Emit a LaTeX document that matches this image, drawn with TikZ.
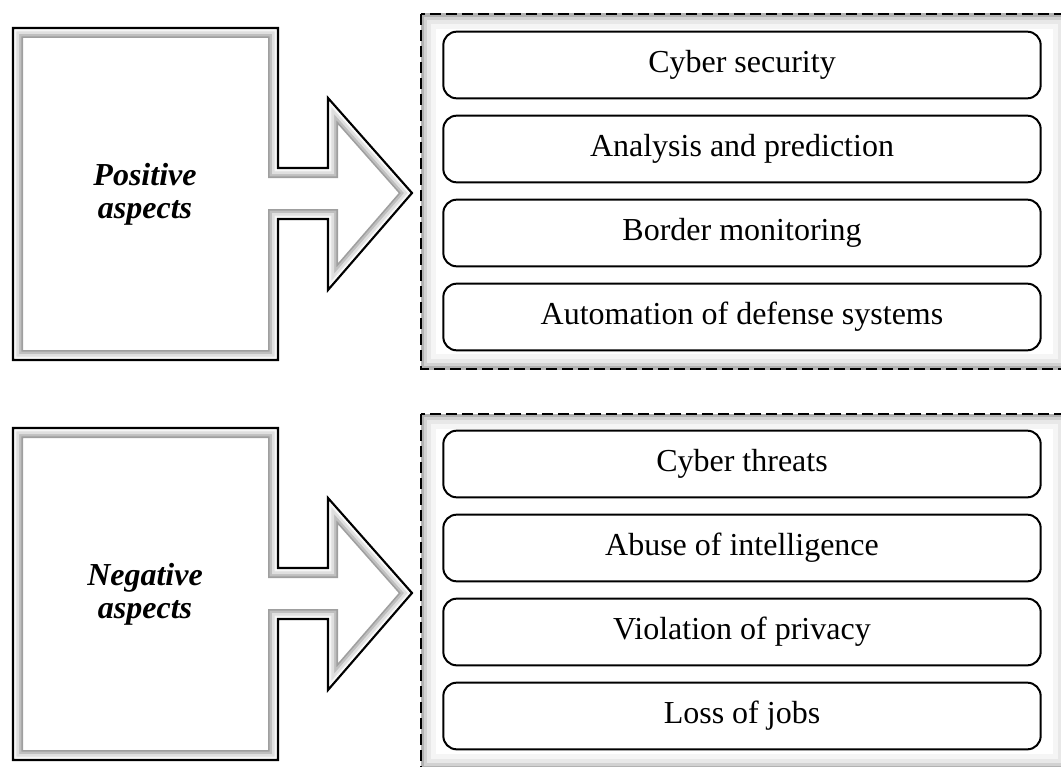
\documentclass[tikz,border=0pt]{standalone}
\usepackage{fontspec}
\setmainfont{Liberation Serif}
\newcommand\aspectshape{(13,28) -- (278,28) -- (278,168) -- (328,168) -- (328,98) -- (412,193) -- (328,290) -- (328,219) -- (278,219) -- (278,360) -- (13,360) -- cycle}
\newcommand\listframe{(421,14) rectangle (1068,369)}
\begin{document}
\begin{tikzpicture}[x=0.75pt, y=-0.75pt,
  item/.style={draw, line width=1.5pt, rounded corners=10pt, fill=white,
    minimum width=448pt, minimum height=50pt, inner sep=0pt,
    font=\fontsize{24}{28}\selectfont},
  aspect/.style={align=center, font=\fontsize{24}{25}\selectfont\bfseries\itshape},
  bevel/.style={line join=miter}]
\useasboundingbox (0,0) rectangle (1061,767);
\clip (0,0) rectangle (1061,767);
\foreach \dy in {0,400}{
\begin{scope}[shift={(0,\dy)}]
\begin{scope}
\clip \aspectshape;
\draw[bevel, line width=15pt, gray!75] \aspectshape;
\draw[bevel, line width=12.5pt, gray!50] \aspectshape;
\draw[bevel, line width=9pt, gray!25] \aspectshape;
\draw[bevel, line width=5pt, gray!8] \aspectshape;
\draw[bevel, line width=3pt, white] \aspectshape;
\end{scope}
\draw[bevel, line width=1.6pt] \aspectshape;
\end{scope}
\begin{scope}[shift={(0,\dy)}]
\begin{scope}
\clip \listframe;
\draw[line width=22pt, gray!8] \listframe;
\draw[line width=15pt, gray!18] \listframe;
\draw[line width=9pt, gray!35] \listframe;
\draw[line width=4pt, gray!60] \listframe;
\end{scope}
\draw[line width=1.5pt, dash pattern=on 8pt off 4pt] \listframe;
\end{scope}
}
\node[aspect] (pos) at (145,194) {Positive\\aspects};
\node[aspect] (neg) at (145,594) {Negative\\aspects};
\foreach \txt [count=\i] in {Cyber security, Analysis and prediction,
    Border monitoring, Automation of defense systems}
  \node[item] (p\i) at (742,{65+84*(\i-1)}) {\txt};
\foreach \txt [count=\i] in {Cyber threats, Abuse of intelligence,
    Violation of privacy, Loss of jobs}
  \node[item] (n\i) at (742,{464+84*(\i-1)}) {\txt};
\end{tikzpicture}
\end{document}
